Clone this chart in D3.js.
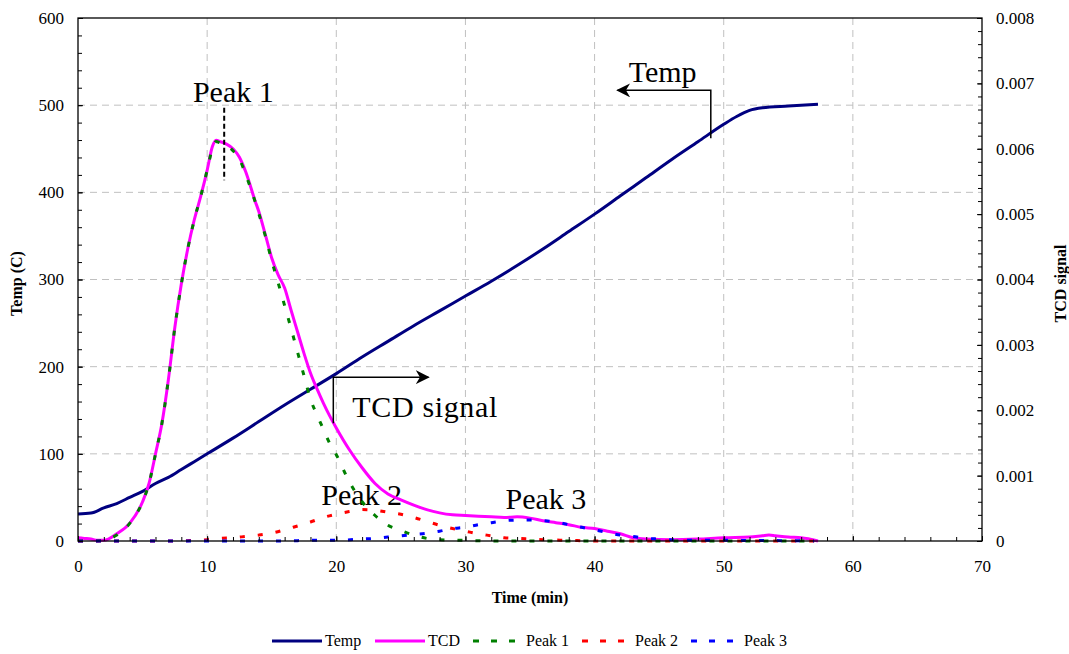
<!DOCTYPE html>
<html>
<head>
<meta charset="utf-8">
<script src="https://cdn.jsdelivr.net/npm/d3@7"></script>
<style>
    body { margin: 0; background: #fff; }
    svg { display: block; font-family: "Liberation Serif", "Times New Roman", serif; }
    .tick text { font-size: 17px; fill: #000; font-family: "Liberation Serif", "Times New Roman", serif; }
    .tick line { stroke: #000; }
</style>
</head>
<body>
<div id="vis"></div>
<script>
// plot box in page pixels
const W = 1069, H = 654;
const plot = { left: 78, right: 982, top: 18, bottom: 541 };

// temperature (left axis, C)
const tempTime = [0, 1, 2, 3, 4, 5, 6, 7, 8, 9, 10, 12, 14, 16, 18, 20, 22, 24, 26, 28, 30,
    32, 34, 36, 38, 40, 42, 44, 46, 48, 50, 51, 52, 53, 55, 57.3];
const tempValues = [31, 32, 38, 43, 50, 57, 66, 73, 82, 91, 100, 118, 137, 156, 174, 192, 211, 229, 247, 264, 281,
    298, 316, 335, 355, 375, 396, 417, 438, 458, 478, 487, 494, 497, 499, 501];

// TCD signal (right axis)
const tcdTime = [0, 0.5, 1, 1.5, 2, 3, 4, 5, 5.5, 6, 6.5, 7, 7.5, 8, 8.5, 9, 9.5, 10, 10.4, 10.7,
    11, 11.5, 12, 12.5, 13, 13.7, 14, 14.5, 15, 15.5, 16, 16.5, 17, 17.5, 18, 18.5, 19, 19.5, 20,
    21, 22, 23, 24, 25, 26, 27, 28, 29, 30, 31, 32, 33, 34, 35, 36, 37, 38, 39, 40, 41, 42, 43, 44,
    46, 48, 50, 52, 53, 53.5, 54, 55, 56, 57.3];
const tcdValues = [0.00005, 0.00004, 0.00003, 0.00001, 0.00001, 0.00011, 0.00027, 0.0006, 0.00088, 0.00133,
    0.0018, 0.00247, 0.00327, 0.00393, 0.00447, 0.00491, 0.00527, 0.00567, 0.00603, 0.00613,
    0.00611, 0.00607, 0.006, 0.00587, 0.00564, 0.00521, 0.00504, 0.00469, 0.00433, 0.00407, 0.00387,
    0.00353, 0.0032, 0.00287, 0.00257, 0.00233, 0.00211, 0.00191, 0.00173,
    0.0014, 0.00112, 0.00088, 0.00072, 0.00063, 0.00055, 0.00048, 0.00043, 0.0004, 0.00039, 0.00038,
    0.00037, 0.00036, 0.00037, 0.00035, 0.00031, 0.00028, 0.00025, 0.00021, 0.00019, 0.00015, 0.00011,
    0.00005, 0.00003, 0.00002, 0.00003, 0.00005, 0.00006, 0.00008, 0.00009, 0.00008, 0.00006, 0.00005, 0];

// fitted peaks (right axis)
const peak1Time = [0, 1, 2, 3, 4, 5, 5.5, 6, 6.5, 7, 7.5, 8, 8.5, 9, 9.5, 10, 10.4, 10.7, 11, 11.5,
    12, 12.5, 13, 13.7, 14, 14.5, 15, 15.5, 16, 16.5, 17, 17.5, 18, 18.5, 19, 19.5, 20, 21, 22, 23,
    24, 25, 26, 27, 28, 30, 32, 57];
const peak1Values = [0, 0, 0.00001, 0.00009, 0.00027, 0.0006, 0.00088, 0.00133, 0.0018, 0.00247, 0.00327,
    0.00393, 0.00447, 0.00491, 0.00527, 0.00567, 0.006, 0.00611, 0.00609, 0.00605, 0.00597, 0.00584,
    0.0056, 0.0052, 0.00501, 0.00467, 0.00429, 0.00395, 0.0036, 0.00325, 0.00289, 0.00253, 0.00217,
    0.00193, 0.00171, 0.00149, 0.00132, 0.00091, 0.0006, 0.00039, 0.00024, 0.00016, 0.00009, 0.00004,
    0.00002, 0.00001, 0, 0];

const peak2Time = [0, 8, 9, 10, 11, 12, 13, 14, 15, 16, 17, 18, 19, 20, 21, 22, 23, 24, 25, 26, 27,
    28, 29, 30, 31, 32, 33, 34, 36, 38, 40, 57];
const peak2Values = [0, 0, 0.00001, 0.00002, 0.00004, 0.00005, 0.00007, 0.00009, 0.00012, 0.00017,
    0.00023, 0.00029, 0.00036, 0.00041, 0.00045, 0.00048, 0.00047, 0.00044, 0.00041, 0.00036, 0.0003,
    0.00024, 0.00019, 0.00015, 0.00011, 0.00008, 0.00005, 0.00004, 0.00002, 0.00001, 0, 0];

const peak3Time = [0, 16, 18, 20, 22, 23, 24, 25, 26, 27, 28, 29, 30, 31, 32, 33, 34, 35, 36, 37, 38,
    39, 40, 41, 42, 43, 44, 45, 47, 50, 57];
const peak3Values = [0, 0, 0.00001, 0.00001, 0.00003, 0.00004, 0.00006, 0.00008, 0.0001, 0.00012,
    0.00015, 0.00019, 0.00021, 0.00025, 0.00028, 0.00031, 0.00032, 0.00032, 0.00031, 0.00029, 0.00025,
    0.00021, 0.00017, 0.00013, 0.00009, 0.00007, 0.00004, 0.00003, 0.00001, 0.00001, 0];

// legend entries
const legendNames = ['Temp', 'TCD', 'Peak 1', 'Peak 2', 'Peak 3'];

const zip = (t, v) => t.map((d, i) => ({ t: d, v: v[i] }));

const series = [
    { name: 'Temp', data: zip(tempTime, tempValues), axis: 'left', color: '#000080', dash: null },
    { name: 'TCD', data: zip(tcdTime, tcdValues), axis: 'right', color: '#ff00ff', dash: null },
    { name: 'Peak 1', data: zip(peak1Time, peak1Values), axis: 'right', color: '#008000', dash: '5,13' },
    { name: 'Peak 2', data: zip(peak2Time, peak2Values), axis: 'right', color: '#ff0000', dash: '5,13' },
    { name: 'Peak 3', data: zip(peak3Time, peak3Values), axis: 'right', color: '#0000ff', dash: '5,13' }
];

const svg = d3.select('#vis').append('svg')
    .attr('width', W)
    .attr('height', H);

// scales
const x = d3.scaleLinear().domain([0, 70]).range([plot.left, plot.right]);
const yL = d3.scaleLinear().domain([0, 600]).range([plot.bottom, plot.top]);
const yR = d3.scaleLinear().domain([0, 0.008]).range([plot.bottom, plot.top]);

// dashed grid
const grid = svg.append('g').attr('stroke', '#c0c0c0').attr('stroke-dasharray', '7,5');
grid.selectAll('line.v').data(d3.range(10, 70, 10)).join('line')
    .attr('x1', d => x(d)).attr('x2', d => x(d))
    .attr('y1', plot.top).attr('y2', plot.bottom);
grid.selectAll('line.h').data(d3.range(100, 600, 100)).join('line')
    .attr('x1', plot.left).attr('x2', plot.right)
    .attr('y1', d => yL(d)).attr('y2', d => yL(d));

// annotation text sits under the curves
const anno = svg.append('g').attr('font-size', 30).attr('fill', '#000');
anno.append('text').attr('x', x(8.9)).attr('y', yL(504)).text('Peak 1');
anno.append('text').attr('x', x(18.84)).attr('y', yL(41)).text('Peak 2');
anno.append('text').attr('x', x(33.1)).attr('y', yL(37)).text('Peak 3');
anno.append('text').attr('x', x(21.24)).attr('y', yL(142)).attr('textLength', 145).text('TCD signal');
anno.append('text').attr('x', x(42.64)).attr('y', yL(527)).text('Temp');

// curves
const lineL = d3.line().x(d => x(d.t)).y(d => yL(d.v)).curve(d3.curveMonotoneX);
const lineR = d3.line().x(d => x(d.t)).y(d => yR(d.v)).curve(d3.curveMonotoneX);

svg.append('g').selectAll('path').data(series).join('path')
    .attr('d', s => (s.axis === 'left' ? lineL : lineR)(s.data))
    .attr('fill', 'none')
    .attr('stroke', s => s.color)
    .attr('stroke-width', 3)
    .attr('stroke-dasharray', s => s.dash);

// arrows and peak marker
svg.append('defs').append('marker')
    .attr('id', 'arrow')
    .attr('viewBox', '0 0 10 10')
    .attr('refX', 9).attr('refY', 5)
    .attr('markerWidth', 14).attr('markerHeight', 14)
    .attr('markerUnits', 'userSpaceOnUse')
    .attr('orient', 'auto')
    .append('path')
    .attr('d', 'M0,0 L10,5 L0,10 L3,5 Z')
    .attr('fill', '#000');

svg.append('path')
    .attr('d', `M${x(49)},${yL(462)} L${x(49)},${yL(517)} L${x(41.78)},${yL(517)}`)
    .attr('fill', 'none').attr('stroke', '#000').attr('stroke-width', 1.5)
    .attr('marker-end', 'url(#arrow)');
svg.append('path')
    .attr('d', `M${x(19.77)},${yL(135)} L${x(19.77)},${yL(188)} L${x(27.13)},${yL(188)}`)
    .attr('fill', 'none').attr('stroke', '#000').attr('stroke-width', 1.5)
    .attr('marker-end', 'url(#arrow)');
svg.append('line')
    .attr('x1', x(11.32)).attr('x2', x(11.32))
    .attr('y1', yL(497)).attr('y2', yL(414))
    .attr('stroke', '#000').attr('stroke-width', 2).attr('stroke-dasharray', '5,3');

// axes (ticks point inward)
const axes = svg.append('g').attr('class', 'axes');
axes.append('g').attr('transform', `translate(${plot.left},0)`)
    .call(d3.axisLeft(yL).tickValues(d3.range(0, 601, 100)).tickSizeInner(-5).tickSizeOuter(0).tickPadding(14));
axes.append('g').attr('transform', `translate(${plot.left},0)`)
    .call(d3.axisLeft(yL).tickValues(d3.range(0, 601, 20)).tickSizeInner(-4).tickSizeOuter(0).tickFormat(''));

axes.append('g').attr('transform', `translate(${plot.right},0)`)
    .call(d3.axisRight(yR).tickValues(d3.range(0, 9).map(d => d / 1000))
        .tickFormat(d => d === 0 ? '0' : d3.format('.3f')(d))
        .tickSizeInner(-5).tickSizeOuter(0).tickPadding(14));
axes.append('g').attr('transform', `translate(${plot.right},0)`)
    .call(d3.axisRight(yR).tickValues(d3.range(0, 41).map(d => d / 5000)).tickSizeInner(-4).tickSizeOuter(0).tickFormat(''));

axes.append('g').attr('transform', `translate(0,${plot.bottom})`)
    .call(d3.axisBottom(x).tickValues(d3.range(0, 71, 10)).tickSizeInner(-5).tickSizeOuter(0).tickPadding(19));
axes.append('g').attr('transform', `translate(0,${plot.bottom})`)
    .call(d3.axisBottom(x).tickValues(d3.range(0, 71, 2)).tickSizeInner(-4).tickSizeOuter(0).tickFormat(''));

axes.selectAll('.domain').remove();
axes.selectAll('g').attr('font-family', null).attr('font-size', null);

// plot border
svg.append('rect')
    .attr('x', plot.left).attr('y', plot.top)
    .attr('width', plot.right - plot.left).attr('height', plot.bottom - plot.top)
    .attr('fill', 'none').attr('stroke', '#000').attr('stroke-width', 1.3);

// axis titles
const midY = (plot.top + plot.bottom) / 2;
svg.append('text')
    .attr('transform', `translate(22,${midY + 4}) rotate(-90)`)
    .attr('text-anchor', 'middle').attr('font-weight', 'bold').attr('font-size', 16)
    .text('Temp (C)');
svg.append('text')
    .attr('transform', `translate(1066,${midY + 4}) rotate(-90)`)
    .attr('text-anchor', 'middle').attr('font-weight', 'bold').attr('font-size', 16)
    .text('TCD signal');
svg.append('text')
    .attr('x', (plot.left + plot.right) / 2).attr('y', 603)
    .attr('text-anchor', 'middle').attr('font-weight', 'bold').attr('font-size', 16)
    .text('Time (min)');

// legend
const legendX = [272, 375, 473, 582, 691];
const legend = svg.append('g').attr('transform', 'translate(0,646)');
const items = legend.selectAll('g').data(series).join('g')
    .attr('transform', (d, i) => `translate(${legendX[i]},0)`);
items.append('line')
    .attr('x1', 0).attr('x2', (d, i) => i < 2 ? 50 : 42)
    .attr('y1', -5).attr('y2', -5)
    .attr('stroke', d => d.color).attr('stroke-width', 3)
    .attr('stroke-dasharray', d => d.dash ? '6,12' : null);
items.append('text')
    .attr('x', 53)
    .attr('font-size', 16)
    .text((d, i) => legendNames[i]);
</script>
</body>
</html>
